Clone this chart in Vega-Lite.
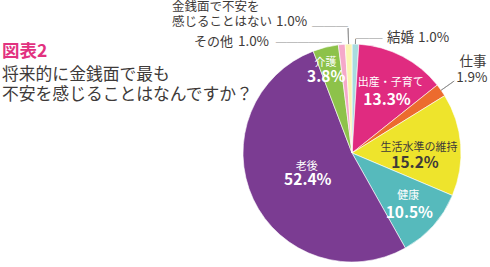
{
  "$schema": "https://vega.github.io/schema/vega-lite/v6.json",
  "width": 276,
  "height": 228,
  "autosize": {"type": "none"},
  "padding": {"left": 214, "top": 39, "right": 0, "bottom": 0},
  "background": "white",
  "config": {"view": {"stroke": null}, "font": "Noto Sans CJK JP"},
  "title": {
    "text": "図表2",
    "subtitle": ["将来的に金銭面で最も", "不安を感じることはなんですか？"],
    "anchor": "start",
    "frame": "group",
    "orient": "top",
    "dx": -212,
    "offset": -102,
    "font": "Noto Sans CJK JP",
    "fontSize": 17.5,
    "fontWeight": "bold",
    "color": "#e2327f",
    "subtitleFont": "Noto Sans CJK JP",
    "subtitleFontSize": 16.8,
    "subtitleFontWeight": "normal",
    "subtitleColor": "#3e3a39",
    "subtitleLineHeight": 20,
    "subtitlePadding": 6
  },
  "data": {
    "values": [
      {"order": 0, "cat": "結婚", "name": "結婚", "value": 1.0, "pct": "1.0%"},
      {"order": 1, "cat": "出産・子育て", "name": "出産・子育て", "value": 13.3, "pct": "13.3%"},
      {"order": 2, "cat": "仕事", "name": "仕事", "value": 1.9, "pct": "1.9%"},
      {"order": 3, "cat": "生活水準の維持", "name": "生活水準の維持", "value": 15.2, "pct": "15.2%"},
      {"order": 4, "cat": "健康", "name": "健康", "value": 10.5, "pct": "10.5%"},
      {"order": 5, "cat": "老後", "name": "老後", "value": 52.4, "pct": "52.4%"},
      {"order": 6, "cat": "介護", "name": "介護", "value": 3.8, "pct": "3.8%"},
      {"order": 7, "cat": "その他", "name": "その他", "value": 1.0, "pct": "1.0%"},
      {"order": 8, "cat": "金銭面で不安を感じることはない", "name": "金銭面で不安を\n感じることはない", "value": 1.0, "pct": "1.0%"}
    ]
  },
  "encoding": {
    "theta": {"field": "value", "type": "quantitative", "stack": true},
    "order": {"field": "order", "type": "quantitative"}
  },
  "layer": [
    {
      "mark": {"type": "arc", "outerRadius": 109, "stroke": "white", "strokeWidth": 0.6},
      "encoding": {
        "color": {
          "field": "cat",
          "type": "nominal",
          "legend": null,
          "scale": {
            "domain": ["結婚", "出産・子育て", "仕事", "生活水準の維持", "健康", "老後", "介護", "その他", "金銭面で不安を感じることはない"],
            "range": ["#a9dcdf", "#e02b80", "#ec6b2e", "#eee42c", "#56babc", "#7b3c92", "#8dc24a", "#f5a8ca", "#fbf5b2"]
          }
        }
      }
    },
    {
      "mark": {
        "type": "arc",
        "filled": false,
        "innerRadius": 109,
        "outerRadius": {"expr": "[114,109,125,109,109,109,109,109,125][datum.order]"},
        "padAngle": 0.6,
        "stroke": "#8c8c8c",
        "strokeWidth": 0.8,
        "strokeOpacity": {"expr": "[1,0,1,0,0,0,0,0,1][datum.order]"}
      }
    },
    {
      "mark": {
        "type": "text",
        "baseline": "middle",
        "font": "Noto Sans CJK JP",
        "fill": "#8c8c8c",
        "radius": {"expr": "[114,109,125,109,109,109,109,109,125][datum.order]"},
        "align": {"expr": "['left','center','center','center','center','center','center','right','right'][datum.order]"},
        "fontSize": {"expr": "[13.5,10,10,10,10,10,10,11,12][datum.order]"}
      },
      "encoding": {
        "text": {
          "condition": [
            {"test": "datum.order === 0", "value": "──"},
            {"test": "datum.order === 7", "value": "──────"},
            {"test": "datum.order === 8", "value": "───"}
          ],
          "value": ""
        }
      }
    },
    {
      "mark": {
        "type": "text",
        "lineBreak": "\n",
        "baseline": "middle",
        "lineHeight": 15,
        "radius": {"expr": "[116,72,125,65,76,49,87,110,115][datum.order]"},
        "align": {"expr": "['left','center','center','center','center','center','center','right','left'][datum.order]"},
        "dx": {"expr": "[31.4,5.5,18.7,2.2,-0.3,-0.8,-5.4,-108.6,-176.4][datum.order]"},
        "dy": {"expr": "[1,-5.8,-19,0.2,-8.1,-6.6,-5.8,-1.8,-30.6][datum.order]"},
        "fontSize": {"expr": "[13.5,11,13.5,11,11,11,11,13,12.5][datum.order]"},
        "fill": {"expr": "['#3e3a39','#ffffff','#3e3a39','#3e3a39','#ffffff','#ffffff','#ffffff','#3e3a39','#3e3a39'][datum.order]"}
      },
      "encoding": {"text": {"field": "name", "type": "nominal"}}
    },
    {
      "mark": {
        "type": "text",
        "baseline": "middle",
        "radius": {"expr": "[116,72,125,65,76,49,87,110,115][datum.order]"},
        "align": {"expr": "['left','center','center','center','center','center','center','right','left'][datum.order]"},
        "dx": {"expr": "[62.4,1.8,17.7,-1.8,0.7,0.2,-4.7,-72.6,-72.4][datum.order]"},
        "dy": {"expr": "[1,10.9,-3,14.6,8.9,6.4,8.8,-1.8,-16.0][datum.order]"},
        "fontSize": {"expr": "[13.5,15.5,13.5,15.5,15.5,15.5,15.5,13.5,13.5][datum.order]"},
        "fontWeight": {"expr": "[400,700,400,700,700,700,700,400,400][datum.order]"},
        "fill": {"expr": "['#3e3a39','#ffffff','#3e3a39','#3e3a39','#ffffff','#ffffff','#ffffff','#3e3a39','#3e3a39'][datum.order]"}
      },
      "encoding": {"text": {"field": "pct", "type": "nominal"}}
    }
  ]
}
